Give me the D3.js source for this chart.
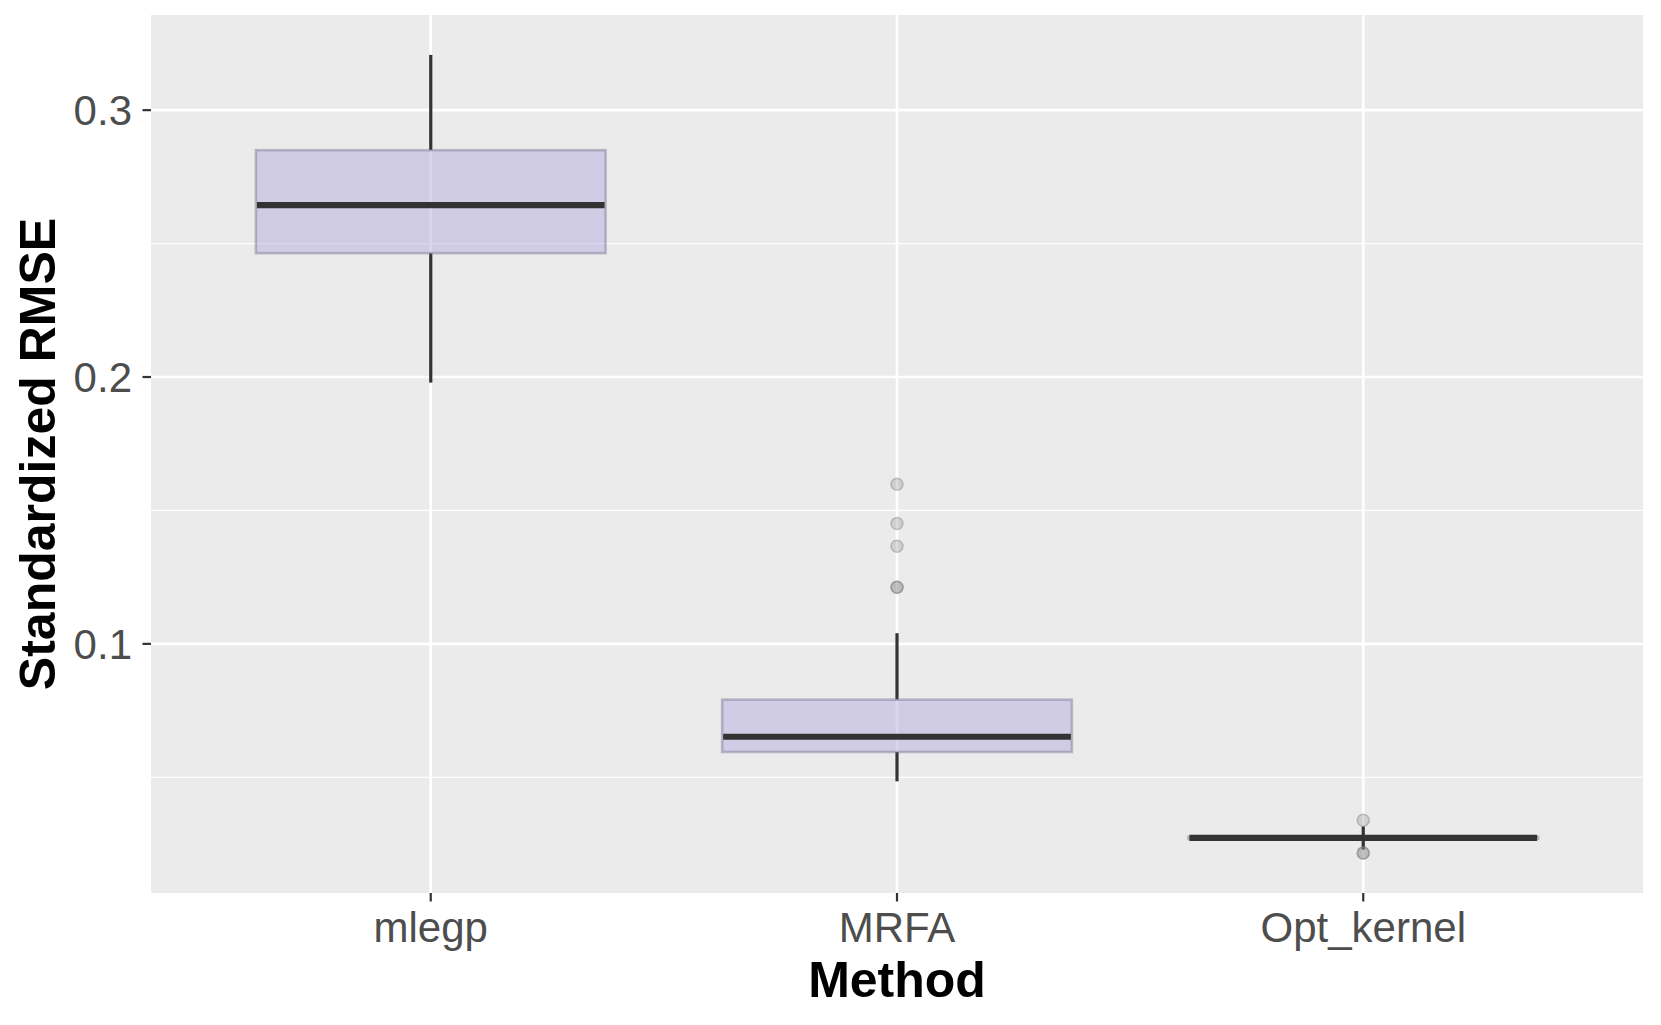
<!DOCTYPE html>
<html>
<head>
<meta charset="utf-8">
<script src="https://cdn.jsdelivr.net/npm/d3@7"></script>
<style>
html,body{margin:0;padding:0;background:#fff;}
svg{display:block;font-family:"Liberation Sans",Arial,Helvetica,sans-serif;}
</style>
</head>
<body>
<svg id="chart" width="1661" height="1025"></svg>
<script>
// ---- data ----
const categories = ["mlegp", "MRFA", "Opt_kernel"];
const whiskerLow  = [0.1979, 0.0485, 0.0229];
const q1          = [0.2464, 0.0595, 0.0269];
const median      = [0.2644, 0.0652, 0.0273];
const q3          = [0.2850, 0.0791, 0.0277];
const whiskerHigh = [0.3207, 0.1040, 0.0316];
const outliers = [
  [],
  [0.1598, 0.1451, 0.1366, 0.1212, 0.1212],
  [0.0339, 0.0216, 0.0216]
];
const yMajorTicks = [0.1, 0.2, 0.3];
const yMinorTicks = [0.05, 0.15, 0.25];
const yTickLabels = ["0.1", "0.2", "0.3"];
const xTitle = "Method";
const yTitle = "Standardized RMSE";

// ---- layout ----
const panel = {left: 151, top: 15, right: 1643, bottom: 893};
const svg = d3.select("#chart");

const dataMin = d3.min([...whiskerLow, ...outliers.flat()]);
const dataMax = d3.max([...whiskerHigh, ...outliers.flat()]);
const pad = (dataMax - dataMin) * 0.05;
const y = d3.scaleLinear().domain([dataMin - pad, dataMax + pad]).range([panel.bottom, panel.top]);

const x = d3.scaleBand().domain(categories).range([panel.left, panel.right]).paddingInner(0).paddingOuter(0.2/1 * 1);
// ggplot discrete expansion: 0.6 units each side over 3 categories -> total 3.2 units
const unit = (panel.right - panel.left) / (categories.length + 0.2);
const xc = c => panel.left + unit * (0.6 + categories.indexOf(c));
const boxW = unit * 0.75;

// panel background
svg.append("rect").attr("x", panel.left).attr("y", panel.top)
  .attr("width", panel.right - panel.left).attr("height", panel.bottom - panel.top)
  .attr("fill", "#EBEBEB");

// minor grid
svg.append("g").selectAll("line").data(yMinorTicks).join("line")
  .attr("x1", panel.left).attr("x2", panel.right)
  .attr("y1", d => y(d)).attr("y2", d => y(d))
  .attr("stroke", "#fff").attr("stroke-width", 1.3);
// major grid
svg.append("g").selectAll("line").data(yMajorTicks).join("line")
  .attr("x1", panel.left).attr("x2", panel.right)
  .attr("y1", d => y(d)).attr("y2", d => y(d))
  .attr("stroke", "#fff").attr("stroke-width", 2.6);
svg.append("g").selectAll("line").data(categories).join("line")
  .attr("x1", d => xc(d)).attr("x2", d => xc(d))
  .attr("y1", panel.top).attr("y2", panel.bottom)
  .attr("stroke", "#fff").attr("stroke-width", 2.6);

// boxplots
const g = svg.append("g");
categories.forEach((c, i) => {
  const cx = xc(c);
  // whiskers
  g.append("line").attr("x1", cx).attr("x2", cx)
    .attr("y1", y(whiskerHigh[i])).attr("y2", y(q3[i]))
    .attr("stroke", "#333").attr("stroke-width", 3.2);
  g.append("line").attr("x1", cx).attr("x2", cx)
    .attr("y1", y(q1[i])).attr("y2", y(whiskerLow[i]))
    .attr("stroke", "#333").attr("stroke-width", 3.2);
  // box
  g.append("rect").attr("x", cx - boxW/2).attr("y", y(q3[i]))
    .attr("width", boxW).attr("height", Math.max(0.5, y(q1[i]) - y(q3[i])))
    .attr("fill", "#b7aee0").attr("fill-opacity", 0.5)
    .attr("stroke", "#7a7590").attr("stroke-opacity", 0.45).attr("stroke-width", 2.6);
  // median
  g.append("line").attr("x1", cx - boxW/2 + 1).attr("x2", cx + boxW/2 - 1)
    .attr("y1", y(median[i])).attr("y2", y(median[i]))
    .attr("stroke", "#333").attr("stroke-width", 6.2);
  // outliers
  g.selectAll(null).data(outliers[i]).join("circle")
    .attr("cx", cx).attr("cy", d => y(d)).attr("r", 6)
    .attr("fill", "#8c8c8c").attr("fill-opacity", 0.3)
    .attr("stroke", "#7a7a7a").attr("stroke-opacity", 0.4).attr("stroke-width", 1.5);
});

// y axis ticks & labels
const ya = svg.append("g");
ya.selectAll("line").data(yMajorTicks).join("line")
  .attr("x1", panel.left - 8.5).attr("x2", panel.left)
  .attr("y1", d => y(d)).attr("y2", d => y(d))
  .attr("stroke", "#333").attr("stroke-width", 2.2);
ya.selectAll("text").data(yMajorTicks).join("text")
  .attr("x", panel.left - 19).attr("y", d => y(d))
  .attr("dy", "0.36em").attr("text-anchor", "end")
  .attr("font-size", 42).attr("fill", "#4D4D4D")
  .text((d, i) => yTickLabels[i]);

// x axis ticks & labels
const xa = svg.append("g");
xa.selectAll("line").data(categories).join("line")
  .attr("x1", d => xc(d)).attr("x2", d => xc(d))
  .attr("y1", panel.bottom).attr("y2", panel.bottom + 8.5)
  .attr("stroke", "#333").attr("stroke-width", 2.2);
xa.selectAll("text").data(categories).join("text")
  .attr("x", d => xc(d)).attr("y", 942)
  .attr("text-anchor", "middle")
  .attr("font-size", 42).attr("fill", "#4D4D4D")
  .text(d => d);

// axis titles
svg.append("text").attr("x", (panel.left + panel.right)/2).attr("y", 997)
  .attr("text-anchor", "middle").attr("font-size", 50).attr("font-weight", "bold")
  .attr("fill", "#000").text(xTitle);
svg.append("text")
  .attr("transform", `translate(55,${(panel.top + panel.bottom)/2}) rotate(-90)`)
  .attr("text-anchor", "middle").attr("font-size", 50).attr("font-weight", "bold")
  .attr("fill", "#000").text(yTitle);
</script>
</body>
</html>
